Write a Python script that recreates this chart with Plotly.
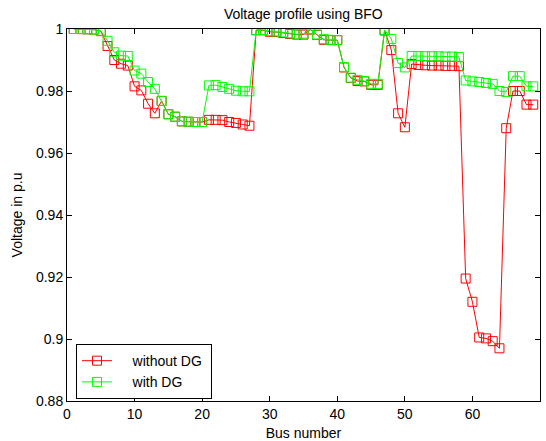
import plotly.graph_objects as go

bus = list(range(1, 70))

v_without_dg = [
    1.0000, 0.99997, 0.9999, 0.9998, 0.9993, 0.9945, 0.9900, 0.9888, 0.9882, 0.9815,
    0.9802, 0.9759, 0.9728, 0.9768, 0.9725, 0.9717, 0.9702, 0.9701, 0.9700, 0.9700,
    0.9707, 0.9707, 0.9706, 0.9700, 0.9697, 0.9692, 0.9688, 0.9996, 0.9996, 0.9991,
    0.9990, 0.9987, 0.9984, 0.9982, 0.9982, 0.9998, 0.9981, 0.9965, 0.9964, 0.9964,
    0.9876, 0.9842, 0.9832, 0.9831, 0.9820, 0.9820, 0.9995, 0.9932, 0.9728, 0.9683,
    0.9887, 0.9884, 0.9883, 0.9882, 0.9882, 0.9881, 0.9881, 0.9880, 0.9195, 0.9120,
    0.9005, 0.9002, 0.8993, 0.8970, 0.9680, 0.9800, 0.9800, 0.9756, 0.9756,
]

v_with_dg = [
    1.0000, 0.99997, 0.9999, 0.9998, 0.9994, 0.9962, 0.9925, 0.9914, 0.9913, 0.9866,
    0.9856, 0.9829, 0.9807, 0.9768, 0.9725, 0.9717, 0.9702, 0.9701, 0.9700, 0.9700,
    0.9818, 0.9819, 0.9813, 0.9807, 0.9801, 0.9799, 0.9799, 0.9997, 0.9997, 0.9993,
    0.9992, 0.9989, 0.9986, 0.9983, 0.9985, 1.0000, 0.9982, 0.9967, 0.9965, 0.9964,
    0.9877, 0.9843, 0.9836, 0.9832, 0.9823, 0.9823, 0.9997, 0.9968, 0.9890, 0.9876,
    0.9913, 0.9913, 0.9912, 0.9912, 0.9912, 0.9911, 0.9911, 0.9910, 0.9834, 0.9831,
    0.9829, 0.9826, 0.9823, 0.9800, 0.9797, 0.9848, 0.9848, 0.9815, 0.9815,
]

x_ticks = [0, 10, 20, 30, 40, 50, 60, 70]
y_ticks = [0.88, 0.90, 0.92, 0.94, 0.96, 0.98, 1.00]
y_tick_labels = ["0.88", "0.9", "0.92", "0.94", "0.96", "0.98", "1"]

FONT = "Liberation Sans, Arial, Helvetica, sans-serif"
FS = 14
PAD = "\u00a0" * 4

fig = go.Figure()
fig.add_trace(go.Scatter(
    x=bus, y=v_without_dg, mode="lines+markers", name=PAD + "without DG" + "\u00a0",
    line=dict(color="#ff0000", width=1),
    marker=dict(symbol="square-open", size=9, color="#ff0000", line=dict(width=1)),
))
fig.add_trace(go.Scatter(
    x=bus, y=v_with_dg, mode="lines+markers", name=PAD + "with DG",
    line=dict(color="#00ff00", width=1),
    marker=dict(symbol="square-open", size=9, color="#00ff00", line=dict(width=1)),
))

axis_common = dict(
    showline=True, linecolor="black", linewidth=1, mirror="ticks",
    ticks="inside", ticklen=5, tickcolor="black", showgrid=False, zeroline=False,
    tickfont=dict(family=FONT, size=FS, color="black"), automargin=False,
)

fig.update_layout(
    width=546, height=441,
    margin=dict(l=67, r=6, t=29, b=40),
    paper_bgcolor="white", plot_bgcolor="white",
    font=dict(family=FONT, size=FS, color="black"),
    title=dict(text="Voltage profile using BFO", x=0.5555, xanchor="center",
               y=1 - 14.5 / 441, yref="container", yanchor="middle",
               font=dict(family=FONT, size=FS, color="black")),
    xaxis=dict(range=[0, 70], tickvals=x_ticks,
               title=dict(text="Bus number", standoff=7,
                          font=dict(family=FONT, size=FS, color="black")),
               **axis_common),
    yaxis=dict(range=[0.88, 1.0], tickvals=y_ticks, ticktext=y_tick_labels,
               title=dict(text="Voltage in p.u", standoff=10,
                          font=dict(family=FONT, size=FS, color="black")),
               **axis_common),
    showlegend=True,
    legend=dict(x=0.019, y=0.153, xanchor="left", yanchor="top",
                bordercolor="black", borderwidth=1, bgcolor="white",
                font=dict(family=FONT, size=FS, color="black"),
                tracegroupgap=0),
)

fig.write_html("out.html")
